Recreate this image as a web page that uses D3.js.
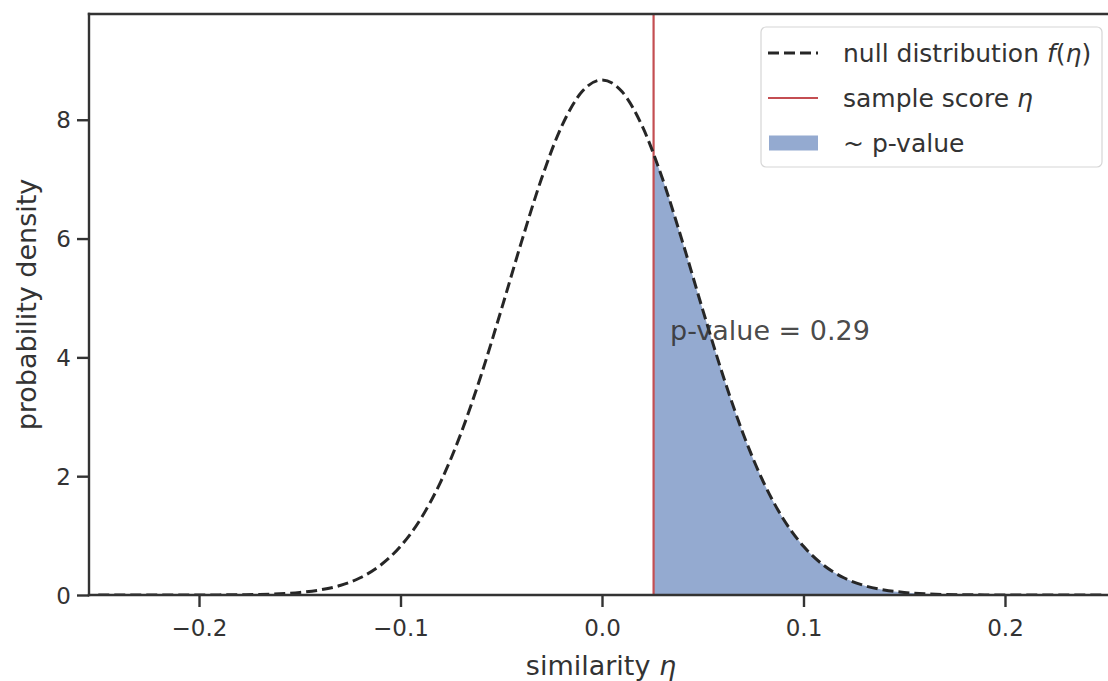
<!DOCTYPE html>
<html>
<head>
<meta charset="utf-8">
<script src="https://cdn.jsdelivr.net/npm/d3@7"></script>
<style>
  html, body { margin: 0; padding: 0; background: #fff; overflow: hidden; }
  svg { display: block; font-family: "DejaVu Sans", sans-serif; }
</style>
</head>
<body>
<svg id="chart" width="1108" height="681"></svg>
<script>
// Null distribution sampled on a grid of similarity values
const etaGrid = [
  -0.25, -0.24, -0.23, -0.22, -0.21, -0.20, -0.19, -0.18, -0.17, -0.16,
  -0.15, -0.14, -0.13, -0.12, -0.11, -0.10, -0.09, -0.08, -0.07, -0.06,
  -0.05, -0.04, -0.03, -0.02, -0.01, 0.00, 0.01, 0.02, 0.03, 0.04,
  0.05, 0.06, 0.07, 0.08, 0.09, 0.10, 0.11, 0.12, 0.13, 0.14,
  0.15, 0.16, 0.17, 0.18, 0.19, 0.20, 0.21, 0.22, 0.23, 0.24, 0.25
];
const densityValues = [
  0, 0, 0, 0, 0, 0.001, 0.002, 0.004, 0.009, 0.020,
  0.043, 0.085, 0.16, 0.29, 0.50, 0.82, 1.28, 1.91, 2.72, 3.70,
  4.80, 5.94, 7.01, 7.89, 8.47, 8.67, 8.47, 7.89, 7.01, 5.94,
  4.80, 3.70, 2.72, 1.91, 1.28, 0.82, 0.50, 0.29, 0.16, 0.085,
  0.043, 0.020, 0.009, 0.004, 0.002, 0.001, 0, 0, 0, 0, 0
];
// Observed sample score and its p-value
const sampleScore = 0.0256;
const pValue = 0.29;

const xTicks = [-0.2, -0.1, 0.0, 0.1, 0.2];
const yTicks = [0, 2, 4, 6, 8];
const xDomain = [-0.2546, 0.2546];
const yDomain = [0, 9.78];

const legendLabels = ["null distribution", "sample score", "~ p-value"];

const colors = { curve: "#262626", score: "#c44e52", fill: "#4c72b0", axis: "#333333", text: "#333333" };

const svg = d3.select("#chart");
const plot = { left: 89, right: 1115, top: 14, bottom: 595 };

const x = d3.scaleLinear().domain(xDomain).range([plot.left, plot.right]);
const y = d3.scaleLinear().domain(yDomain).range([plot.bottom, plot.top]);

const points = etaGrid.map((e, i) => ({ eta: e, d: densityValues[i] }));

const defs = svg.append("defs");
defs.append("clipPath").attr("id", "plot-clip")
  .append("rect")
  .attr("x", plot.left).attr("y", plot.top)
  .attr("width", plot.right - plot.left).attr("height", plot.bottom - plot.top);
defs.append("clipPath").attr("id", "tail-clip")
  .append("rect")
  .attr("x", x(sampleScore)).attr("y", plot.top)
  .attr("width", plot.right - x(sampleScore)).attr("height", plot.bottom - plot.top);

const inner = svg.append("g").attr("clip-path", "url(#plot-clip)");

// Shaded upper tail (area beyond the sample score)
inner.append("g").attr("clip-path", "url(#tail-clip)")
  .append("path")
  .datum(points)
  .attr("fill", colors.fill)
  .attr("fill-opacity", 0.6)
  .attr("d", d3.area()
    .x(p => x(p.eta))
    .y0(y(0))
    .y1(p => y(p.d))
    .curve(d3.curveMonotoneX));

// Vertical marker for the sample score
inner.append("line")
  .attr("x1", x(sampleScore)).attr("x2", x(sampleScore))
  .attr("y1", plot.top).attr("y2", plot.bottom)
  .attr("stroke", colors.score).attr("stroke-width", 2.2);

// Density curve
inner.append("path")
  .datum(points)
  .attr("fill", "none")
  .attr("stroke", colors.curve)
  .attr("stroke-width", 3)
  .attr("stroke-dasharray", "11,5")
  .attr("d", d3.line()
    .x(p => x(p.eta))
    .y(p => y(p.d))
    .curve(d3.curveMonotoneX));

// Axes
const fmtX = v => (v < 0 ? "\u2212" : "") + Math.abs(v).toFixed(1);
const xAxis = d3.axisBottom(x).tickValues(xTicks).tickFormat(fmtX).tickSize(12).tickPadding(13).tickSizeOuter(0);
const yAxis = d3.axisLeft(y).tickValues(yTicks).tickFormat(d3.format("d")).tickSize(12).tickPadding(6).tickSizeOuter(0);

const gx = svg.append("g").attr("transform", `translate(0,${plot.bottom})`).call(xAxis);
const gy = svg.append("g").attr("transform", `translate(${plot.left},0)`).call(yAxis);

[gx, gy].forEach(g => {
  g.select(".domain").remove();
  g.selectAll(".tick line").attr("stroke", colors.axis).attr("stroke-width", 2.4);
  g.selectAll(".tick text")
    .attr("fill", colors.text)
    .style("font-size", "23px")
    .style("font-family", "DejaVu Sans");
});
gy.selectAll(".tick text").attr("dy", "0.35em");

// Spines: left, bottom and top (right edge lies past the page)
svg.append("line").attr("x1", plot.left).attr("x2", plot.left).attr("y1", plot.top).attr("y2", plot.bottom)
  .attr("stroke", colors.axis).attr("stroke-width", 2.4).attr("stroke-linecap", "square");
svg.append("line").attr("x1", plot.left).attr("x2", plot.right).attr("y1", plot.bottom).attr("y2", plot.bottom)
  .attr("stroke", colors.axis).attr("stroke-width", 2.4).attr("stroke-linecap", "square");
svg.append("line").attr("x1", plot.left).attr("x2", plot.right).attr("y1", plot.top).attr("y2", plot.top)
  .attr("stroke", colors.axis).attr("stroke-width", 2.4).attr("stroke-linecap", "square");

// Axis titles
const xTitle = svg.append("text")
  .attr("x", 601).attr("y", 675)
  .attr("text-anchor", "middle").attr("fill", colors.text).style("font-size", "27px");
xTitle.append("tspan").text("similarity ");
xTitle.append("tspan").style("font-style", "italic").text("\u03b7");

svg.append("text")
  .attr("transform", `translate(36,${(plot.top + plot.bottom) / 2}) rotate(-90)`)
  .attr("text-anchor", "middle").attr("fill", colors.text).style("font-size", "27px")
  .text("probability density");

// Annotation
svg.append("text")
  .attr("x", x(sampleScore + 0.0082)).attr("y", y(4.29))
  .attr("fill", colors.text).attr("fill-opacity", 0.9).style("font-size", "27px")
  .text(`p-value = ${pValue.toFixed(2)}`);

// Legend
const lg = svg.append("g").attr("transform", "translate(761,27)");
lg.append("rect").attr("width", 341).attr("height", 140).attr("rx", 5)
  .attr("fill", "#fff").attr("fill-opacity", 0.8)
  .attr("stroke", "#d6d6d6").attr("stroke-width", 1.2);

const rowY = [26, 71, 116];
lg.append("line").attr("x1", 7).attr("x2", 57).attr("y1", rowY[0]).attr("y2", rowY[0])
  .attr("stroke", colors.curve).attr("stroke-width", 3).attr("stroke-dasharray", "11,5");
lg.append("line").attr("x1", 7).attr("x2", 57).attr("y1", rowY[1]).attr("y2", rowY[1])
  .attr("stroke", colors.score).attr("stroke-width", 2.2);
lg.append("rect").attr("x", 8).attr("y", rowY[2] - 7.5).attr("width", 49).attr("height", 15)
  .attr("fill", colors.fill).attr("fill-opacity", 0.6);

const legendFont = "25px";
const t0 = lg.append("text").attr("x", 82).attr("y", rowY[0]).attr("dy", "0.35em")
  .attr("fill", colors.text).style("font-size", legendFont);
t0.append("tspan").text(legendLabels[0] + " ");
t0.append("tspan").style("font-style", "italic").text("f");
t0.append("tspan").text("(");
t0.append("tspan").style("font-style", "italic").text("\u03b7");
t0.append("tspan").text(")");

const t1 = lg.append("text").attr("x", 82).attr("y", rowY[1]).attr("dy", "0.35em")
  .attr("fill", colors.text).style("font-size", legendFont);
t1.append("tspan").text(legendLabels[1] + " ");
t1.append("tspan").style("font-style", "italic").text("\u03b7");

lg.append("text").attr("x", 82).attr("y", rowY[2]).attr("dy", "0.35em")
  .attr("fill", colors.text).style("font-size", legendFont)
  .text(legendLabels[2]);
</script>
</body>
</html>
